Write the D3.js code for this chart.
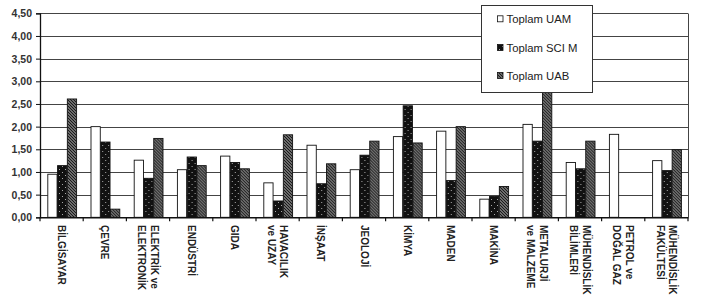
<!DOCTYPE html>
<html><head><meta charset="utf-8">
<script src="https://cdn.jsdelivr.net/npm/d3@7"></script>
<style>body{margin:0;background:#fff}svg{display:block}</style>
</head><body>
<svg id="chart" width="705" height="308"></svg>
<script>
const categories = ["BİLGİSAYAR","ÇEVRE","ELEKTRİK ve|ELEKTRONİK","ENDÜSTRİ","GIDA","HAVACILIK|ve UZAY","İNŞAAT","JEOLOJİ","KİMYA","MADEN","MAKİNA","METALURJİ|ve MALZEME","MÜHENDİSLİK|BİLİMLERİ","PETROL ve|DOĞAL GAZ","MÜHENDİSLİK|FAKÜLTESİ"];
const seriesNames = ["Toplam UAM","Toplam SCI M","Toplam UAB"];
const uam  = [0.95,2.00,1.26,1.05,1.35,0.76,1.59,1.05,1.78,1.90,0.40,2.05,1.21,1.83,1.25];
const scim = [1.14,1.66,0.86,1.33,1.21,0.36,0.74,1.37,2.46,0.81,0.46,1.68,1.07,0,1.03];
const uab  = [2.61,0.18,1.74,1.14,1.07,1.82,1.18,1.68,1.64,2.00,0.68,2.85,1.68,0,1.49];
const yTicks = [0,0.5,1,1.5,2,2.5,3,3.5,4,4.5];

const svg = d3.select("#chart");
const L = 40, R = 688, T = 13.3, B = 217.3;
const FONT = "Liberation Sans, Arial, sans-serif";
const defs = svg.append("defs");
// dotted black pattern
const pd = defs.append("pattern").attr("id","dots").attr("patternUnits","userSpaceOnUse").attr("width",6).attr("height",6);
pd.append("rect").attr("width",6).attr("height",6).attr("fill","#111");
pd.append("rect").attr("x",1).attr("y",1).attr("width",1).attr("height",1).attr("fill","#aaa");
pd.append("rect").attr("x",4).attr("y",4).attr("width",1).attr("height",1).attr("fill","#aaa");
// hatch pattern
const ph = defs.append("pattern").attr("id","hatch").attr("patternUnits","userSpaceOnUse").attr("width",3).attr("height",3);
ph.append("rect").attr("width",3).attr("height",3).attr("fill","#bbb");
ph.append("path").attr("d","M-1,-1 L4,4 M-1,2 L1,4 M2,-1 L4,1").attr("stroke","#1a1a1a").attr("stroke-width",1.4);

const fills = ["#fff","url(#dots)","url(#hatch)"];
const data = categories.map((c,i)=>({c, v:[uam[i],scim[i],uab[i]]}));

const x0 = d3.scaleBand().domain(categories).range([L,R]).padding(0);
const x1 = d3.scaleBand().domain([0,1,2]).range([7.3,36.6]).padding(0);
const y = d3.scaleLinear().domain([0,4.5]).range([B,T]);

// gridlines
svg.append("g").selectAll("line").data(yTicks.filter(d=>d>0)).join("line")
  .attr("x1",L).attr("x2",R).attr("y1",d=>Math.round(y(d))+0.5).attr("y2",d=>Math.round(y(d))+0.5)
  .attr("stroke","#444").attr("stroke-width",1);
// right border
svg.append("line").attr("x1",R+0.5).attr("x2",R+0.5).attr("y1",Math.round(T)+0.5).attr("y2",B).attr("stroke","#444");

// bars
const g = svg.append("g").selectAll("g").data(data).join("g").attr("transform",d=>`translate(${x0(d.c)},0)`);
g.selectAll("rect").data(d=>d.v.map((v,k)=>({v,k})).filter(d=>d.v>0)).join("rect")
  .attr("x",d=>x1(d.k)+0.5).attr("width",x1.bandwidth()-0.5)
  .attr("y",d=>y(d.v)).attr("height",d=>B-y(d.v))
  .attr("fill",d=>fills[d.k]).attr("stroke","#111").attr("stroke-width",0.9);

// y axis
const ya = d3.axisLeft(y).tickValues(yTicks).tickSize(4).tickFormat(d=>d3.format(".2f")(d).replace(".",","));
const yg = svg.append("g").attr("transform",`translate(${L},0)`).call(ya);
yg.select(".domain").attr("stroke","#111").attr("stroke-width",1.3);
yg.selectAll(".tick line").attr("stroke","#111");
yg.selectAll("text").attr("font-family",FONT).attr("font-size","10.5px").attr("font-weight","bold").attr("fill","#333").attr("x",-8);

// x axis
const xa = d3.axisBottom(x0).tickSize(0).tickFormat("");
const xg = svg.append("g").attr("transform",`translate(0,${B})`).call(xa);
xg.select(".domain").attr("stroke","#111").attr("stroke-width",1.5);
const bounds = categories.map(c=>x0(c)).concat([R]);
xg.selectAll(".bt").data(bounds).join("line").attr("class","bt")
  .attr("x1",d=>d).attr("x2",d=>d).attr("y1",0).attr("y2",4).attr("stroke","#111").attr("stroke-width",1.2);
// labels (rotated, reading top to bottom; first line on the right)
const lab = svg.append("g").selectAll("text").data(categories).join("text")
  .attr("transform",c=>`translate(${x0(c)+x0.bandwidth()/2},225) rotate(90)`)
  .attr("font-family",FONT).attr("font-size","10px").attr("font-weight","bold").attr("fill","#222")
  .attr("text-anchor","start");
lab.each(function(c){
  const lines = c.split("|");
  const n = lines.length;
  d3.select(this).selectAll("tspan").data(lines).join("tspan")
    .attr("x",0).attr("y",(d,i)=>(i-(n-1)/2)*12.5 + 3.5)
    .text(d=>d);
});

// legend
const lg = svg.append("g");
lg.append("rect").attr("x",481.5).attr("y",5.5).attr("width",111).attr("height",87).attr("fill","#fff").attr("stroke","#333");
const ly = [23.3,52,80];
seriesNames.forEach((s,k)=>{
  lg.append("rect").attr("x",497.5).attr("y",ly[k]-7.5).attr("width",5.5).attr("height",6).attr("fill",fills[k]).attr("stroke","#111").attr("stroke-width",0.8);
  lg.append("text").attr("x",506.5).attr("y",ly[k]).text(s)
    .attr("font-family",FONT).attr("font-size","11.3px").attr("fill","#222");
});
</script>
</body></html>
